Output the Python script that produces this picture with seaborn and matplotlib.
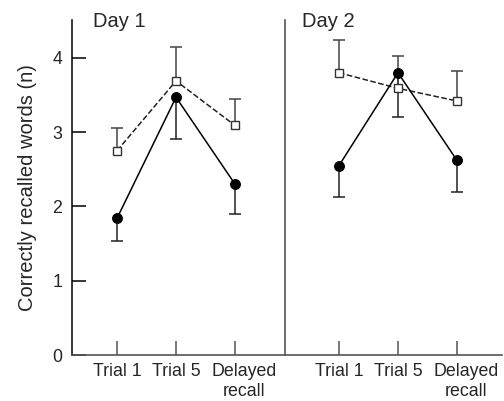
import matplotlib
matplotlib.use("Agg")
import matplotlib.pyplot as plt
import matplotlib.transforms as mtransforms
import seaborn as sns
import pandas as pd
import numpy as np

# valores (média e erro de um lado só)
trials = ["Trial 1", "Trial 5", "Delayed\nrecall"]
days = ["Day 1", "Day 2"]

circle_day1 = [1.84, 3.47, 2.30]
circle_day1_err = [0.30, 0.56, 0.40]
square_day1 = [2.75, 3.69, 3.09]
square_day1_err = [0.31, 0.45, 0.36]

circle_day2 = [2.55, 3.80, 2.62]
circle_day2_err = [0.42, 0.60, 0.43]
square_day2 = [3.80, 3.59, 3.42]
square_day2_err = [0.44, 0.43, 0.41]

yticks = [0, 1, 2, 3, 4]

sns.set_style("ticks")
plt.rcParams['font.family'] = ['Liberation Sans', 'DejaVu Sans']

fig = plt.figure(figsize=(5.04, 4.01), dpi=100)
ax1 = fig.add_axes([72 / 504, 1 - 355 / 401, 213 / 504, 335 / 401])
ax2 = fig.add_axes([285 / 504, 1 - 355 / 401, 217 / 504, 335 / 401], sharey=ax1)

grey = "#555555"


# barra de erro de um lado só (sem traço no ponto da média)
def one_sided_err(ax, means, errs, direction, color):
    x = np.arange(len(means))
    means = np.array(means)
    ends = means + direction * np.array(errs)
    ax.vlines(x, means, ends, colors=color, linewidth=1.1, zorder=1)
    ax.plot(x, ends, linestyle="none", marker="_", markersize=8,
            markeredgewidth=1.1, color=color, zorder=1)


def draw_day(ax, circles, circles_err, squares, squares_err):
    df_c = pd.DataFrame({"trial": trials, "value": circles})
    df_s = pd.DataFrame({"trial": trials, "value": squares})

    # círculos com erro para baixo, quadrados com erro para cima
    one_sided_err(ax, circles, circles_err, -1, "#222222")
    one_sided_err(ax, squares, squares_err, 1, "#444444")

    sns.pointplot(data=df_s, x="trial", y="value", order=trials, errorbar=None,
                  color="#222222", markers="s", linestyles="--", ax=ax,
                  markersize=6, markerfacecolor="white", markeredgecolor="#333333",
                  markeredgewidth=1.0, linewidth=1.1, zorder=3)
    sns.pointplot(data=df_c, x="trial", y="value", order=trials, errorbar=None,
                  color="black", markers="o", linestyles="-", ax=ax,
                  markersize=7, linewidth=1.1, zorder=4)


draw_day(ax1, circle_day1, circle_day1_err, square_day1, square_day1_err)
draw_day(ax2, circle_day2, circle_day2_err, square_day2, square_day2_err)

ax1.set_ylim(0, 4.51)
ax1.set_xlim(-0.763, 2.847)
ax2.set_xlim(-0.915, 2.763)
ax1.set_yticks(yticks)

for ax in (ax1, ax2):
    ax.spines["top"].set_visible(False)
    ax.spines["right"].set_visible(False)
    ax.spines["bottom"].set_color(grey)
    ax.spines["bottom"].set_linewidth(1.2)
    ax.set_xlabel("")
    ax.set_ylabel("")
    ax.tick_params(axis="x", direction="in", length=10, width=1.1, color=grey,
                   labelsize=12.8, pad=6)
    # o rótulo "Delayed recall" fica um pouco à direita do tique
    lab = ax.get_xticklabels()[2]
    lab.set_transform(lab.get_transform() +
                      mtransforms.ScaledTranslation(9 / 100, 0, fig.dpi_scale_trans))

ax1.spines["left"].set_color("black")
ax1.spines["left"].set_linewidth(1.1)
ax1.tick_params(axis="y", direction="in", length=10, width=1.1, color="black",
                labelsize=12.8, pad=7)
ax2.spines["left"].set_color(grey)
ax2.spines["left"].set_linewidth(1.2)
ax2.tick_params(axis="y", left=False, labelleft=False)

ax1.set_ylabel("Correctly recalled words (n)", fontsize=14.5, labelpad=11)

ax1.text(0.099, 0.98, days[0], transform=ax1.transAxes, fontsize=14.5, va="baseline")
ax2.text(0.077, 0.98, days[1], transform=ax2.transAxes, fontsize=14.5, va="baseline")

fig.savefig("out.png", dpi=100)
